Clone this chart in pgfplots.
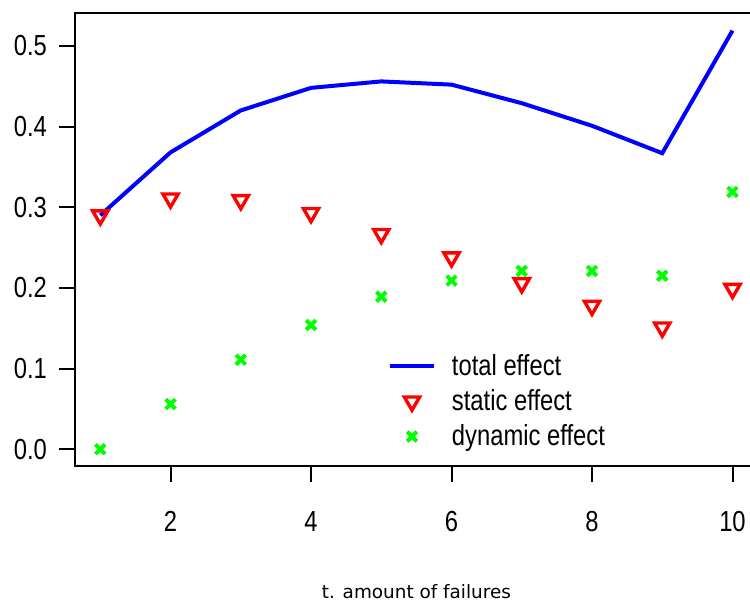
\documentclass[border=0pt]{standalone}
\usepackage{pgfplots}
\pgfplotsset{compat=1.18}
\usepackage{fontspec}
\setmainfont{Liberation Sans}[FakeStretch=0.82]
\newfontfamily\labelfont{DejaVu Sans}

% effects per number of failures
\pgfplotstableread{
t  total  static  dynamic
1  0.290  0.290   0.000
2  0.368  0.311   0.056
3  0.420  0.309   0.111
4  0.448  0.293   0.154
5  0.456  0.267   0.189
6  0.452  0.238   0.209
7  0.429  0.206   0.221
8  0.401  0.178   0.221
9  0.367  0.151   0.215
10 0.519  0.199   0.319
}\effects

\begin{document}
\begin{tikzpicture}
\useasboundingbox (0,0) rectangle (375pt,300.5pt);
\clip (0,0) rectangle (375pt,300.5pt);
\begin{axis}[
  at={(37.5pt,67.5pt)}, anchor=south west,
  scale only axis, width=341.4pt, height=226.5pt,
  xmin=0.64, xmax=10.36, ymin=-0.0208, ymax=0.5408,
  xtick={2,4,6,8,10},
  ytick={0,0.1,0.2,0.3,0.4,0.5},
  xtick pos=left, ytick pos=left,
  tick align=outside, major tick length=8pt,
  axis line style={line width=1pt, black},
  every tick/.style={line width=1pt, black},
  /pgf/number format/assume math mode=true,
  yticklabel style={/pgf/number format/fixed, /pgf/number format/fixed zerofill,
    /pgf/number format/precision=1, xshift=-2.5pt},
  xticklabel style={yshift=-11pt},
  tick label style={font=\fontsize{14.5}{17}\selectfont},
  xlabel={t. amount of failures},
  xlabel style={at={(rel axis cs:0.5,0)}, anchor=base, yshift=-66pt,
    font=\labelfont\fontsize{9.2}{11}\selectfont},
  legend style={at={(axis cs:5.09,0.123)}, anchor=north west, draw=none, fill=none,
    inner sep=0pt, row sep=1.5pt, column sep=6pt,
    font=\fontsize{14.5}{17}\selectfont},
  legend cell align=left,
  legend image code/.code={\draw[mark repeat=2,mark phase=2,#1]
    plot coordinates {(0pt,0pt) (11pt,0pt) (22pt,0pt)};},
]
\addplot[color=blue, line width=2pt, no marks] table[x=t, y=total] {\effects};
\addlegendentry{total effect}
\addplot[color=red, only marks, mark=triangle, mark size=4.4pt,
  mark options={rotate=180, line width=1.7pt}] table[x=t, y=static] {\effects};
\addlegendentry{static effect}
\addplot[color=green, only marks, mark=x, mark size=3.4pt,
  mark options={line width=2pt}] table[x=t, y=dynamic] {\effects};
\addlegendentry{dynamic effect}
\end{axis}
\end{tikzpicture}
\end{document}
